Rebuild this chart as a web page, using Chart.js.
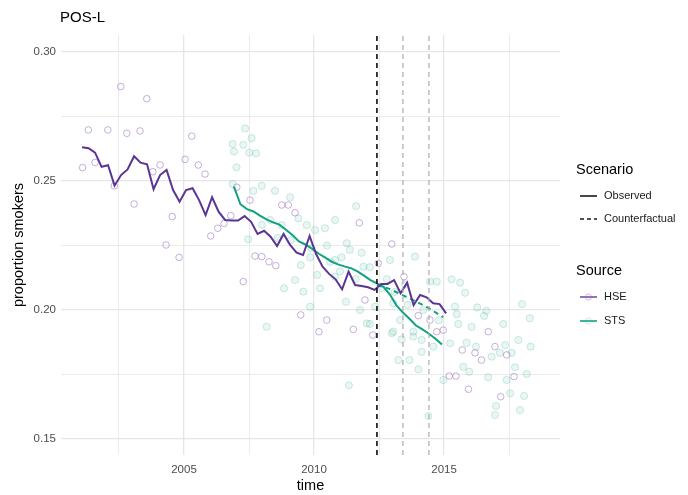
<!DOCTYPE html>
<html>
<head>
<meta charset="utf-8">
<script src="https://cdn.jsdelivr.net/npm/chart.js@4.4.1/dist/chart.umd.min.js"></script>
<style>
  html, body { margin: 0; padding: 0; background: #ffffff; }
  #wrap { width: 688px; height: 495px; position: relative; }
</style>
</head>
<body>
<div id="wrap"><canvas id="smokers"></canvas></div>
<script>
// smoothed HSE series, quarterly from 2001.08
var hseLine = [
  0.2631, 0.2627, 0.2610, 0.2555, 0.2561, 0.2482, 0.2523, 0.2545, 0.2596, 0.2571,
  0.2565, 0.2468, 0.2523, 0.2543, 0.2465, 0.2420, 0.2465, 0.2472, 0.2426, 0.2368,
  0.2437, 0.2381, 0.2349, 0.2347, 0.2347, 0.2364, 0.2342, 0.2295, 0.2307, 0.2284,
  0.2248, 0.2295, 0.2252, 0.2222, 0.2213, 0.2287, 0.2217, 0.2168, 0.2140, 0.2119,
  0.2080, 0.2149, 0.2097, 0.2093, 0.2088, 0.2078, 0.2101, 0.2101, 0.2116, 0.2065,
  0.2106, 0.2019, 0.2058, 0.2049, 0.2026, 0.2023, 0.1987
];
var hseLineStart = 2001.08;

// smoothed STS series, quarterly from 2006.92
var stsLine = [
  0.2478, 0.2410, 0.2391, 0.2382, 0.2366, 0.2351, 0.2340, 0.2331, 0.2311, 0.2291,
  0.2266, 0.2254, 0.2238, 0.2219, 0.2204, 0.2188, 0.2177, 0.2169, 0.2162, 0.2150,
  0.2133, 0.2116, 0.2103, 0.2090, 0.2060, 0.2018, 0.1990, 0.1966, 0.1940, 0.1925,
  0.1908, 0.1889, 0.1866
];
var stsLineStart = 2006.92;

// counterfactual STS after the first event
var cfTime = [2012.42, 2012.9, 2013.4, 2013.9, 2014.4, 2014.97];
var cfValue = [0.2097, 0.2082, 0.2058, 0.2034, 0.2008, 0.1972];

// raw survey estimates
var hseTime = [
  2002.57, 2003.57, 2001.32, 2002.07, 2002.80, 2003.31, 2005.30, 2001.10, 2001.58, 2002.32,
  2003.08, 2003.80, 2004.08, 2005.04, 2005.55, 2005.81, 2004.55, 2004.31, 2004.81, 2006.03,
  2006.30, 2006.54, 2006.80, 2007.03, 2007.54, 2008.76, 2009.01, 2009.27, 2007.73, 2007.99,
  2008.27, 2008.53, 2007.28, 2009.49, 2010.49, 2011.74, 2012.47, 2011.96, 2011.51, 2010.19,
  2012.99, 2013.46, 2014.01, 2014.46, 2014.72, 2014.97, 2012.26, 2016.70, 2016.96, 2017.41,
  2016.19, 2015.70, 2016.44, 2015.20, 2015.46, 2015.94, 2017.69, 2017.18
];
var hseValue = [
  0.2866, 0.2819, 0.2698, 0.2698, 0.2685, 0.2694, 0.2674, 0.2552, 0.2572, 0.2481,
  0.2411, 0.2536, 0.2562, 0.2584, 0.2562, 0.2527, 0.2362, 0.2252, 0.2204, 0.2287,
  0.2317, 0.2336, 0.2366, 0.2476, 0.2426, 0.2407, 0.2407, 0.2377, 0.2209, 0.2207,
  0.2187, 0.2172, 0.2110, 0.1981, 0.1961, 0.2338, 0.2181, 0.2039, 0.1925, 0.1916,
  0.2256, 0.2129, 0.1978, 0.1961, 0.1916, 0.1922, 0.1903, 0.1916, 0.1858, 0.1826,
  0.1834, 0.1845, 0.1806, 0.1744, 0.1744, 0.1693, 0.1742, 0.1664
];

var stsTime = [
  2006.87, 2006.92, 2007.02, 2007.35, 2007.60, 2007.28, 2007.51, 2007.77, 2007.67, 2007.99,
  2008.50, 2009.08, 2006.87, 2007.47, 2008.31, 2008.76, 2009.72, 2009.40, 2010.42, 2010.81,
  2011.62, 2011.38, 2011.83, 2011.06, 2008.85, 2009.59, 2010.23, 2010.81, 2009.85, 2011.23,
  2009.27, 2009.49, 2008.18, 2011.77, 2012.03, 2009.85, 2010.62, 2010.04, 2011.26, 2011.90,
  2012.92, 2013.88, 2014.46, 2014.72, 2010.12, 2010.81, 2013.05, 2013.31, 2012.99, 2013.82,
  2014.59, 2012.15, 2015.29, 2015.62, 2015.81, 2016.28, 2016.62, 2016.54, 2015.42, 2015.49,
  2018.00, 2018.30, 2017.28, 2016.06, 2015.55, 2015.23, 2015.87, 2016.23, 2016.83, 2017.15,
  2017.35, 2017.60, 2017.86, 2018.33, 2015.74, 2015.97, 2016.70, 2017.41, 2017.73, 2018.18,
  2017.54, 2017.92, 2017.00, 2016.96, 2018.08, 2014.97, 2014.40, 2013.67, 2013.24, 2014.14,
  2014.01, 2013.37, 2012.35, 2012.15, 2013.82, 2014.14, 2013.05, 2011.34, 2008.00, 2008.60,
  2009.10, 2009.90, 2010.50, 2011.00, 2011.60, 2012.60, 2013.10, 2013.60, 2014.20, 2014.80,
  2013.50, 2012.80
];
var stsValue = [
  0.2643, 0.2614, 0.2553, 0.2704, 0.2666, 0.2640, 0.2610, 0.2607, 0.2462, 0.2481,
  0.2462, 0.2437, 0.2488, 0.2274, 0.2349, 0.2329, 0.2329, 0.2355, 0.2317, 0.2349,
  0.2403, 0.2233, 0.2222, 0.2204, 0.2084, 0.2071, 0.2084, 0.2129, 0.2013, 0.2032,
  0.2116, 0.2174, 0.1935, 0.2000, 0.1948, 0.2204, 0.2187, 0.2310, 0.2259, 0.2168,
  0.2194, 0.2207, 0.2110, 0.2110, 0.2136, 0.2194, 0.2026, 0.1961, 0.1910, 0.1897,
  0.1858, 0.2166, 0.2119, 0.2106, 0.2067, 0.2010, 0.1997, 0.1977, 0.2013, 0.1984,
  0.2023, 0.1968, 0.1946, 0.1935, 0.1946, 0.1871, 0.1873, 0.1858, 0.1819, 0.1834,
  0.1864, 0.1834, 0.1884, 0.1858, 0.1780, 0.1761, 0.1739, 0.1729, 0.1778, 0.1752,
  0.1677, 0.1612, 0.1628, 0.1593, 0.1667, 0.1729, 0.1589, 0.1806, 0.1806, 0.1838,
  0.1770, 0.1886, 0.2013, 0.1946, 0.1916, 0.1884, 0.1916, 0.1708, 0.2330, 0.2280,
  0.2270, 0.2240, 0.2250, 0.2150, 0.2120, 0.2085, 0.2070, 0.2020, 0.2000, 0.1960,
  0.2100, 0.2120
];

// policy dates
var eventTimes = [2012.42, 2013.42, 2014.42];

// axes
var xRange = [2000.27, 2019.46];
var yRange = [0.1438, 0.3066];
var xGrid = [2002.5, 2005, 2007.5, 2010, 2012.5, 2015, 2017.5];
var xTickLabels = ["2005", "2010", "2015"];
var yGrid = [0.15, 0.175, 0.2, 0.225, 0.25, 0.275, 0.3];
var yTickLabels = ["0.15", "0.20", "0.25", "0.30"];

var purple = "#5b3593";
var green = "#11a27f";
var fontFamily = "'Liberation Sans', Arial, sans-serif";

function pts(xs, ys) {
  return xs.map(function (x, i) { return { x: x, y: ys[i] }; });
}
function quarterly(start, values) {
  return values.map(function (v, i) { return { x: start + i * 0.25, y: v }; });
}
function isMajor(v, step) {
  return Math.abs(v / step - Math.round(v / step)) < 1e-6;
}

var datasets = [];

eventTimes.forEach(function (t, i) {
  datasets.push({
    type: "line",
    data: [{ x: t, y: yRange[0] }, { x: t, y: yRange[1] }],
    borderColor: i === 0 ? "#1a1a1a" : "#ababab",
    borderWidth: i === 0 ? 1.7 : 1.2,
    borderDash: [5, 4],
    pointRadius: 0,
    fill: false,
    order: 0,
  });
});

datasets.push({
  type: "line",
  data: quarterly(hseLineStart, hseLine),
  borderColor: purple,
  borderWidth: 2,
  pointRadius: 0,
  tension: 0,
  order: 1,
});
datasets.push({
  type: "line",
  data: quarterly(stsLineStart, stsLine),
  borderColor: green,
  borderWidth: 2,
  pointRadius: 0,
  tension: 0,
  order: 1,
});
datasets.push({
  type: "line",
  data: pts(cfTime, cfValue),
  borderColor: green,
  borderWidth: 2,
  borderDash: [5, 4],
  pointRadius: 0,
  tension: 0,
  order: 1,
});
datasets.push({
  type: "scatter",
  data: pts(hseTime, hseValue),
  borderColor: "rgba(150, 110, 185, 0.55)",
  backgroundColor: "rgba(0,0,0,0)",
  borderWidth: 1,
  pointRadius: 3.3,
  order: 2,
});
datasets.push({
  type: "scatter",
  data: pts(stsTime, stsValue),
  borderColor: "rgba(60, 175, 150, 0.24)",
  backgroundColor: "rgba(60, 175, 150, 0.11)",
  borderWidth: 1,
  pointRadius: 3.6,
  order: 3,
});

var textPlugin = {
  id: "texts",
  afterDraw: function (chart) {
    var ctx = chart.ctx;
    ctx.save();
    ctx.textBaseline = "middle";
    ctx.textAlign = "left";
    ctx.fillStyle = "#000000";
    ctx.font = "15px " + fontFamily;
    ctx.fillText("POS-L", 60, 18);

    // legend
    var lx = 576;
    ctx.font = "14.5px " + fontFamily;
    ctx.fillText("Scenario", lx, 170);
    ctx.fillText("Source", lx, 271);
    ctx.font = "11px " + fontFamily;
    ctx.fillStyle = "#1a1a1a";
    ctx.fillText("Observed", 604, 196);
    ctx.fillText("Counterfactual", 604, 219);
    ctx.fillText("HSE", 604, 297);
    ctx.fillText("STS", 604, 321);

    function sample(y, color, dash, marker) {
      ctx.beginPath();
      ctx.setLineDash(dash);
      ctx.strokeStyle = color;
      ctx.lineWidth = 1.6;
      ctx.moveTo(580, y);
      ctx.lineTo(597, y);
      ctx.stroke();
      ctx.setLineDash([]);
      if (marker) {
        ctx.beginPath();
        ctx.arc(588.5, y, 3, 0, Math.PI * 2);
        ctx.strokeStyle = marker;
        ctx.lineWidth = 1;
        ctx.stroke();
      }
    }
    sample(196, "#1a1a1a", [], null);
    sample(219, "#1a1a1a", [4, 3], null);
    sample(297, "#7a4fa8", [], "rgba(150,110,185,0.45)");
    sample(321, green, [], "rgba(60,175,150,0.25)");
    ctx.restore();
  },
};

var config = {
  data: { datasets: datasets },
  options: {
    responsive: true,
    maintainAspectRatio: false,
    animation: false,
    layout: { padding: { top: 35, right: 128, left: 0, bottom: 0 } },
    plugins: {
      legend: { display: false },
      tooltip: { enabled: false },
    },
    scales: {
      x: {
        type: "linear",
        min: xRange[0],
        max: xRange[1],
        afterBuildTicks: function (scale) {
          scale.ticks = xGrid.map(function (v) { return { value: v }; });
        },
        afterFit: function (scale) { scale.height = 40; },
        border: { display: false },
        grid: {
          drawTicks: false,
          color: "#e6e6e6",
          lineWidth: function (c) { return isMajor(c.tick.value, 5) ? 1.3 : 0.8; },
        },
        ticks: {
          autoSkip: false,
          maxRotation: 0,
          padding: 8,
          color: "#4d4d4d",
          font: { family: fontFamily, size: 11.5 },
          callback: function (v) {
            if (!isMajor(v, 5)) return "";
            var label = String(Math.round(v));
            return xTickLabels.indexOf(label) >= 0 ? label : "";
          },
        },
        title: {
          display: true,
          text: "time",
          color: "#000000",
          font: { family: fontFamily, size: 14.5 },
          padding: { top: 0, bottom: 0 },
        },
      },
      y: {
        type: "linear",
        min: yRange[0],
        max: yRange[1],
        afterBuildTicks: function (scale) {
          scale.ticks = yGrid.map(function (v) { return { value: v }; });
        },
        afterFit: function (scale) { scale.width = 61; },
        border: { display: false },
        grid: {
          drawTicks: false,
          color: "#e6e6e6",
          lineWidth: function (c) { return isMajor(c.tick.value, 0.05) ? 1.3 : 0.8; },
        },
        ticks: {
          autoSkip: false,
          padding: 5,
          color: "#4d4d4d",
          font: { family: fontFamily, size: 11.5 },
          callback: function (v) {
            if (!isMajor(v, 0.05)) return "";
            var label = v.toFixed(2);
            return yTickLabels.indexOf(label) >= 0 ? label : "";
          },
        },
        title: {
          display: true,
          text: "proportion smokers",
          color: "#000000",
          font: { family: fontFamily, size: 14.5 },
          padding: { top: 10, bottom: 0 },
        },
      },
    },
  },
  plugins: [textPlugin],
};

var smokers_chart = new Chart(document.getElementById("smokers").getContext("2d"), config);
</script>
</body>
</html>
